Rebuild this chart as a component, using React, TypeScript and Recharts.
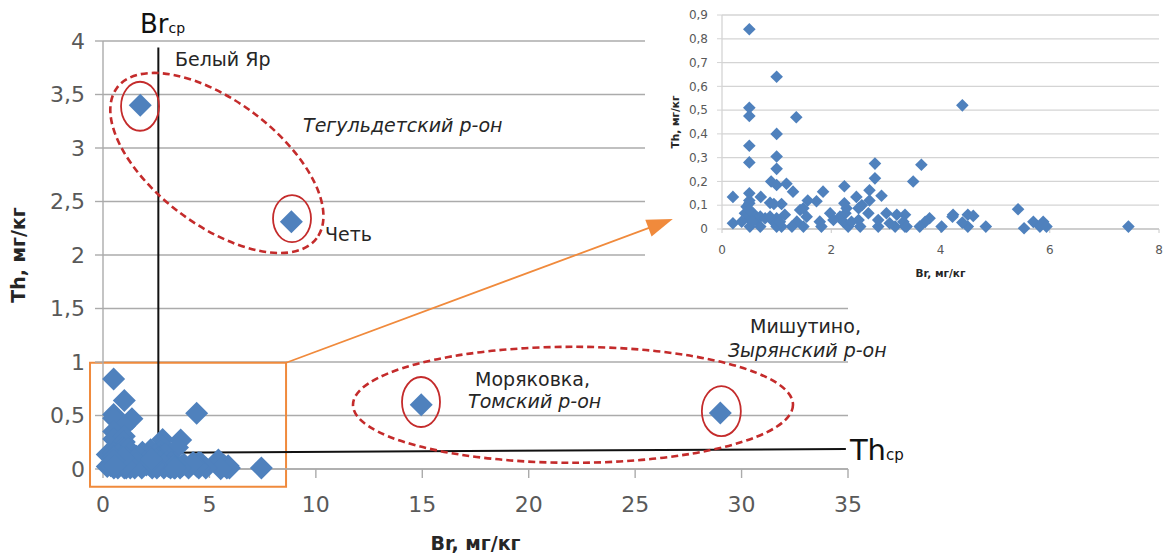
import React from 'react';
import {
  ScatterChart, Scatter, XAxis, YAxis, CartesianGrid, ReferenceLine, ReferenceDot, ReferenceArea,
} from 'recharts';

// Cluster of samples (Br, Th) shown in the inset and in the main chart
const clusterBr = [
  0.5, 1.0, 4.4, 0.5, 0.5, 1.36, 1.0, 0.5, 0.5, 1.0, 1.0, 2.8, 3.65, 2.8, 3.5, 0.9, 1.0, 1.18, 1.3, 2.24,
  2.7, 2.7, 2.92, 1.85, 0.2, 0.5, 0.5, 0.71, 1.57, 1.73, 0.88, 1.09, 2.46, 2.24, 2.56, 2.5, 1.43, 1.98, 2.68, 3.01,
  3.35, 3.2, 4.23, 4.5, 4.6, 5.42, 3.8, 3.72, 5.7, 5.88, 5.82, 5.94, 5.53, 4.83, 4.02, 7.44, 4.5, 4.4, 4.22, 3.62,
  3.35, 3.17, 3.07, 2.86, 2.86, 2.53, 2.31, 2.22, 2.16, 2.04, 1.79, 1.82, 1.49, 1.37, 1.28, 1.09, 1.0, 1.0, 0.91, 0.7,
  0.63, 0.51, 0.5, 0.42, 0.45, 0.5, 0.57, 0.7, 0.79, 0.2, 0.36, 1.49, 1.55, 0.88, 1.15, 1.06, 3.32, 3.38, 2.5, 2.37,
  2.26, 2.28, 0.95, 0.5, 0.55,
];
const clusterTh = [
  0.84, 0.64, 0.52, 0.51, 0.475, 0.47, 0.4, 0.35, 0.28, 0.305, 0.253, 0.275, 0.27, 0.213, 0.2, 0.2, 0.185, 0.19, 0.157, 0.18,
  0.163, 0.12, 0.14, 0.157, 0.135, 0.15, 0.12, 0.135, 0.12, 0.117, 0.11, 0.105, 0.135, 0.108, 0.1, 0.087, 0.08, 0.066, 0.066, 0.066,
  0.06, 0.06, 0.06, 0.06, 0.055, 0.083, 0.045, 0.03, 0.03, 0.03, 0.01, 0.01, 0.003, 0.01, 0.01, 0.01, 0.01, 0.027, 0.052, 0.01,
  0.01, 0.01, 0.024, 0.01, 0.038, 0.01, 0.01, 0.031, 0.052, 0.038, 0.031, 0.01, 0.01, 0.031, 0.01, 0.01, 0.01, 0.045, 0.038, 0.01,
  0.038, 0.01, 0.045, 0.066, 0.094, 0.108, 0.066, 0.052, 0.045, 0.024, 0.031, 0.087, 0.052, 0.052, 0.06, 0.03, 0.03, 0.01, 0.038, 0.03,
  0.066, 0.087, 0.105, 0.08, 0.03,
];
// Highlighted outlier samples (Белый Яр, Четь, Моряковка, Мишутино)
const outlierBr = [1.75, 8.85, 14.95, 29.0];
const outlierTh = [3.4, 2.31, 0.6, 0.523];

// Mean reference values
const brMean = 2.6;
const thMeanStart = 0.15;
const thMeanEnd = 0.187;

// Zoom arrow: from the corner of the highlighted box to the inset
const arrowFrom = { x: 8.6, y: 0.993 };
const arrowTo = { x: 26.77, y: 2.336 };

// Tick labels
const mainXTicks = [0, 5, 10, 15, 20, 25, 30, 35];
const mainYTicks = [0, 0.5, 1, 1.5, 2, 2.5, 3, 3.5, 4];
const insetXTicks = [0, 2, 4, 6, 8];
const insetYTicks = [0, 0.1, 0.2, 0.3, 0.4, 0.5, 0.6, 0.7, 0.8, 0.9];

const clusterData = clusterBr.map((br, i) => ({ br, th: clusterTh[i] }));
const mainData = clusterData.concat(outlierBr.map((br, i) => ({ br, th: outlierTh[i] })));
const arrowData = [{ br: arrowFrom.x, th: arrowFrom.y }, { br: arrowTo.x, th: arrowTo.y }];

const FONT = '"DejaVu Sans", Verdana, sans-serif';
const BLUE = '#4F81BD';
const ORANGE = '#F08A3C';
const RED = '#C42B2B';
const TICK = '#595959';

const comma = (v: number) => (v === 0 ? '0' : String(Math.round(v * 10) / 10).replace('.', ','));

const diamond = (h: number) => (p: any) => {
  const { cx, cy } = p;
  if (cx == null || cy == null) return <g />;
  return (
    <polygon
      points={`${cx},${cy - h} ${cx + h},${cy} ${cx},${cy + h} ${cx - h},${cy}`}
      fill={BLUE}
    />
  );
};

const ellipseShape = (rx: number, ry: number, rot: number, dashed: boolean) => (p: any) => (
  <ellipse
    cx={p.cx}
    cy={p.cy}
    rx={rx}
    ry={ry}
    transform={`rotate(${rot} ${p.cx} ${p.cy})`}
    fill="none"
    stroke={RED}
    strokeWidth={dashed ? 2.6 : 1.8}
    strokeDasharray={dashed ? '7 4' : undefined}
  />
);

const textShape = (text: string, italic = false, size = 19) => (p: any) => (
  <text
    x={p.cx}
    y={p.cy}
    fontFamily={FONT}
    fontSize={size}
    fontStyle={italic ? 'italic' : 'normal'}
    fill="#262626"
  >
    {text}
  </text>
);

const subLabelShape = (main: string, sub: string, size: number, subSize: number) => (p: any) => (
  <text x={p.cx} y={p.cy} fontFamily={FONT} fill="#111">
    <tspan fontSize={size}>{main}</tspan>
    <tspan fontSize={subSize}>{sub}</tspan>
  </text>
);

const arrowShape = (p: any) => {
  const { x1, y1, x2, y2 } = p;
  if ([x1, y1, x2, y2].some((v) => v == null)) return <g />;
  const ang = Math.atan2(y2 - y1, x2 - x1);
  const len = 26;
  const hw = 9;
  const bx = x2 - len * Math.cos(ang);
  const by = y2 - len * Math.sin(ang);
  const px = -Math.sin(ang) * hw;
  const py = Math.cos(ang) * hw;
  return (
    <g>
      <line x1={x1} y1={y1} x2={bx + 2 * Math.cos(ang)} y2={by + 2 * Math.sin(ang)} stroke={ORANGE} strokeWidth={1.8} />
      <polygon points={`${x2},${y2} ${bx + px},${by + py} ${bx - px},${by - py}`} fill={ORANGE} />
    </g>
  );
};

const xTitle = (text: string, dy: number, size: number) => (p: any) => {
  const vb = p.viewBox || {};
  return (
    <text x={vb.x + vb.width / 2} y={vb.y + dy} textAnchor="middle" fontFamily={FONT} fontWeight="bold" fontSize={size} fill="#262626">
      {text}
    </text>
  );
};

const yTitle = (text: string, dx: number, size: number) => (p: any) => {
  const vb = p.viewBox || {};
  const cx = vb.x + dx;
  const cy = vb.y + vb.height / 2;
  return (
    <text x={cx} y={cy} transform={`rotate(-90 ${cx} ${cy})`} textAnchor="middle" dominantBaseline="central" fontFamily={FONT} fontWeight="bold" fontSize={size} fill="#262626">
      {text}
    </text>
  );
};

function MainChart() {
  return (
    <ScatterChart width={1163} height={556} margin={{ top: 41, right: 315, left: 43, bottom: 7 }}>
      <CartesianGrid vertical={false} stroke="#ababab" strokeWidth={1.4} />
      <XAxis
        type="number"
        dataKey="br"
        domain={[0, 35]}
        ticks={mainXTicks}
        height={80}
        axisLine={{ stroke: '#ababab', strokeWidth: 1.4 }}
        tickLine={{ stroke: '#ababab', strokeWidth: 1.4 }}
        tickSize={9}
        tickMargin={18}
        tick={{ fontFamily: FONT, fontSize: 22, fill: TICK }}
        label={xTitle('Br, мг/кг', 81, 19)}
      />
      <YAxis
        type="number"
        dataKey="th"
        domain={[0, 4]}
        ticks={mainYTicks}
        width={60}
        tickFormatter={comma}
        axisLine={{ stroke: '#ababab', strokeWidth: 1.4 }}
        tickLine={{ stroke: '#ababab', strokeWidth: 1.4 }}
        tickSize={8}
        tickMargin={10}
        tick={{ fontFamily: FONT, fontSize: 22, fill: TICK }}
        label={yTitle('Th, мг/кг', -25, 19)}
      />
      <ReferenceArea x1={-0.61} x2={8.6} y1={-0.165} y2={0.993} ifOverflow="visible" fill="none" fillOpacity={0} stroke={ORANGE} strokeWidth={2} />
      <Scatter data={mainData} fill={BLUE} shape={diamond(11.5)} isAnimationActive={false} />
      <ReferenceLine segment={[{ x: brMean, y: -0.075 }, { x: brMean, y: 3.94 }]} ifOverflow="visible" stroke="#111" strokeWidth={2} />
      <ReferenceLine segment={[{ x: 0, y: thMeanStart }, { x: 34.9, y: thMeanEnd }]} ifOverflow="visible" stroke="#111" strokeWidth={2} />

      <ReferenceDot x={5.35} y={2.86} ifOverflow="visible" shape={ellipseShape(125, 62, 37, true)} />
      <ReferenceDot x={22.08} y={0.6} ifOverflow="visible" shape={ellipseShape(220, 58, 0, true)} />
      <ReferenceDot x={1.74} y={3.39} ifOverflow="visible" shape={ellipseShape(19, 24.5, 0, false)} />
      <ReferenceDot x={8.88} y={2.34} ifOverflow="visible" shape={ellipseShape(19, 23.5, 0, false)} />
      <ReferenceDot x={14.94} y={0.626} ifOverflow="visible" shape={ellipseShape(19, 25, 0, false)} />
      <ReferenceDot x={29.05} y={0.54} ifOverflow="visible" shape={ellipseShape(19.5, 25, 0, false)} />

      <ReferenceDot x={1.74} y={4.075} ifOverflow="visible" shape={subLabelShape('Br', 'ср', 26, 14)} />
      <ReferenceDot x={35.09} y={0.084} ifOverflow="visible" shape={subLabelShape('Th', 'ср', 29, 15)} />
      <ReferenceDot x={3.38} y={3.766} ifOverflow="visible" shape={textShape('Белый Яр')} />
      <ReferenceDot x={9.4} y={3.15} ifOverflow="visible" shape={textShape('Тегульдетский р-он', true)} />
      <ReferenceDot x={10.43} y={2.131} ifOverflow="visible" shape={textShape('Четь')} />
      <ReferenceDot x={30.4} y={1.271} ifOverflow="visible" shape={textShape('Мишутино,')} />
      <ReferenceDot x={29.36} y={1.047} ifOverflow="visible" shape={textShape('Зырянский р-он', true)} />
      <ReferenceDot x={17.48} y={0.776} ifOverflow="visible" shape={textShape('Моряковка,')} />
      <ReferenceDot x={17.15} y={0.57} ifOverflow="visible" shape={textShape('Томский р-он', true)} />
    </ScatterChart>
  );
}

// Transparent overlay using the same scales as the main chart, for the zoom arrow
function ArrowOverlay() {
  return (
    <ScatterChart width={1163} height={556} margin={{ top: 41, right: 315, left: 103, bottom: 87 }}>
      <XAxis type="number" dataKey="br" domain={[0, 35]} allowDataOverflow hide />
      <YAxis type="number" dataKey="th" domain={[0, 4]} allowDataOverflow hide />
      <Scatter data={arrowData} shape={() => <g />} isAnimationActive={false} />
      <ReferenceLine segment={[arrowFrom, arrowTo]} ifOverflow="visible" shape={arrowShape} stroke={ORANGE} />
    </ScatterChart>
  );
}

function InsetChart() {
  return (
    <ScatterChart width={518} height={282} margin={{ top: 15, right: 4, left: 37, bottom: 8 }}>
      <CartesianGrid vertical={false} stroke="#d4d4d4" strokeWidth={1.3} />
      <XAxis
        type="number"
        dataKey="br"
        domain={[0, 8]}
        ticks={insetXTicks}
        height={45}
        axisLine={{ stroke: '#c8c8c8', strokeWidth: 1.3 }}
        tickLine={{ stroke: '#c8c8c8' }}
        tickSize={4}
        tickMargin={12}
        tick={{ fontFamily: FONT, fontSize: 12, fill: TICK }}
        label={xTitle('Br, мг/кг', 48, 10.5)}
      />
      <YAxis
        type="number"
        dataKey="th"
        domain={[0, 0.9]}
        ticks={insetYTicks}
        width={40}
        tickFormatter={comma}
        axisLine={{ stroke: '#d4d4d4', strokeWidth: 1.3 }}
        tickLine={{ stroke: '#d4d4d4' }}
        tickSize={5}
        tickMargin={9}
        tick={{ fontFamily: FONT, fontSize: 12, fill: TICK }}
        label={yTitle('Th, мг/кг', -7, 10.5)}
      />
      <Scatter data={clusterData} fill={BLUE} shape={diamond(6.3)} isAnimationActive={false} />
    </ScatterChart>
  );
}

export default function App() {
  return (
    <div style={{ position: 'absolute', left: 0, top: 0, width: 1163, height: 556, background: '#fff' }}>
      <div style={{ position: 'absolute', left: 0, top: 0 }}>
        <MainChart />
      </div>
      <div style={{ position: 'absolute', left: 645, top: 0, width: 518, height: 282, background: '#fff' }}>
        <InsetChart />
      </div>
      <div style={{ position: 'absolute', left: 0, top: 0, pointerEvents: 'none' }}>
        <ArrowOverlay />
      </div>
    </div>
  );
}
